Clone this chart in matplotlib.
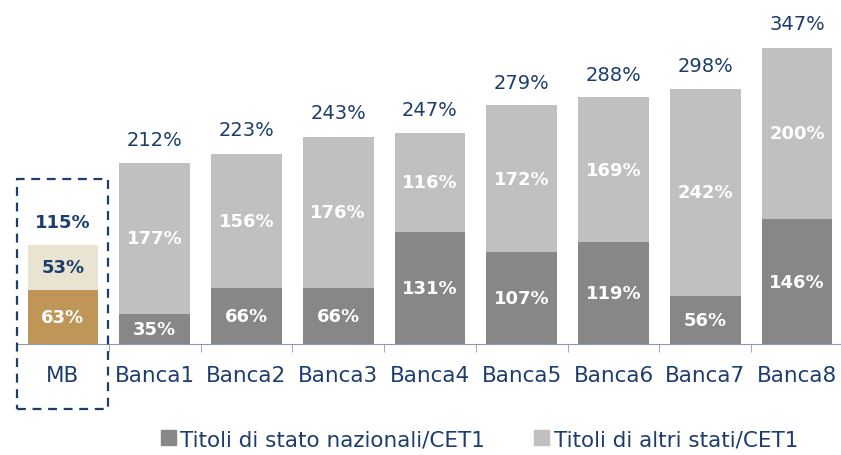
import matplotlib.pyplot as plt
import numpy as np
from matplotlib.patches import Rectangle

categories = ["MB", "Banca1", "Banca2", "Banca3", "Banca4", "Banca5", "Banca6", "Banca7", "Banca8"]
nazionali = [63, 35, 66, 66, 131, 107, 119, 56, 146]
altri = [53, 177, 156, 176, 116, 172, 169, 242, 200]
totali = [115, 212, 223, 243, 247, 279, 288, 298, 347]

blue = "#1c3d6e"
dark_gray = "#878787"
light_gray = "#c0c0c0"
gold = "#c09558"
beige = "#e9e3d2"

plt.rcParams["font.family"] = ["DejaVu Sans"]

fig = plt.figure(figsize=(8.41, 4.56), dpi=100)
ax = fig.add_axes([17 / 841, 111 / 456, 826 / 841, 299.6 / 456])

x = np.arange(len(categories))
w = 0.77
bottom_colors = [gold] + [dark_gray] * 8
top_colors = [beige] + [light_gray] * 8
ax.bar(x, nazionali, w, color=bottom_colors)
ax.bar(x, altri, w, bottom=nazionali, color=top_colors)

for i in range(len(categories)):
    ax.text(x[i], nazionali[i] / 2, f"{nazionali[i]}%", ha="center", va="center",
            color="white", fontsize=13, fontweight="bold")
    col = blue if i == 0 else "white"
    ax.text(x[i], nazionali[i] + altri[i] / 2, f"{altri[i]}%", ha="center", va="center",
            color=col, fontsize=13, fontweight="bold")
    if i == 0:
        ax.text(x[i], totali[i] + 27, f"{totali[i]}%", ha="center", va="center",
                color=blue, fontsize=13, fontweight="bold")
    else:
        ax.text(x[i], totali[i] + 27, f"{totali[i]}%", ha="center", va="center",
                color=blue, fontsize=14, clip_on=False)

ax.set_xlim(-0.5, len(categories) - 0.5)
ax.set_ylim(0, 350)
ax.set_yticks([])
for s in ["top", "right", "left"]:
    ax.spines[s].set_visible(False)
ax.spines["bottom"].set_color("#8d99ae")
ax.set_xticks(x)
ax.set_xticklabels(categories, color=blue, fontsize=15.5)
ax.tick_params(axis="x", length=0, pad=15)
ax.set_xticks(np.arange(-0.5, len(categories) - 0.4, 1), minor=True)
ax.tick_params(axis="x", which="minor", length=6, color="#8d99ae")

# dashed box around MB
box = Rectangle((17 / 841, 46 / 456), 91 / 841, 230 / 456, transform=fig.transFigure,
                fill=False, edgecolor=blue, linestyle=(0, (4, 3)), linewidth=1.6)
fig.patches.append(box)

handles = [Rectangle((0, 0), 1, 1, color=dark_gray), Rectangle((0, 0), 1, 1, color=light_gray)]
fig.legend(handles, ["Titoli di stato nazionali/CET1", "Titoli di altri stati/CET1"],
           loc="center", bbox_to_anchor=(0.57, 0.035), ncol=2, frameon=False,
           fontsize=15.5, handlelength=0.7, handleheight=0.7, handletextpad=0.2,
           columnspacing=2.3, labelcolor=blue)

fig.savefig("out.png", dpi=100)
